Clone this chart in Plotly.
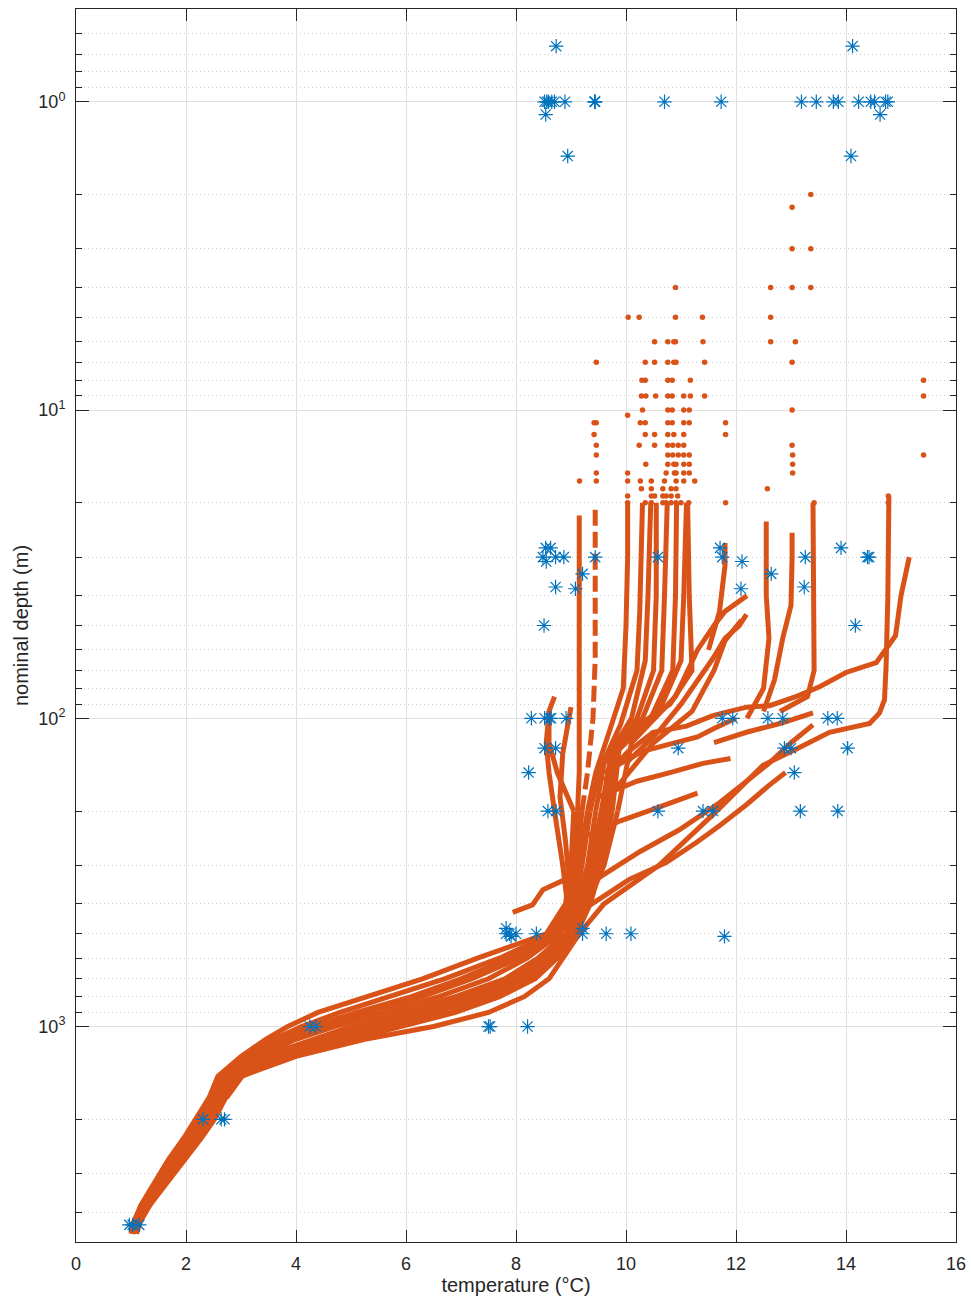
import plotly.graph_objects as go

ORANGE = "#D95319"
BLUE = "#0072BD"

# ---------------- deep part of the profiles (shared depth grid, m) ----------------
deep_depth = [4700, 4300, 3800, 3200, 2700, 2300, 2000, 1700, 1450, 1250, 1100,
              1000, 900, 800, 700, 600, 500, 400, 300, 200]
deep_t1 = [1.00, 1.05, 1.18, 1.42, 1.68, 1.96, 2.18, 2.42, 2.58, 3.00, 3.45,
           3.85, 4.40, 5.30, 6.30, 7.30, 8.55, 8.90, 9.00, 9.05]
deep_t2 = [1.02, 1.08, 1.25, 1.50, 1.78, 2.05, 2.28, 2.52, 2.70, 3.15, 3.75,
           4.30, 5.10, 6.10, 7.00, 7.90, 8.70, 8.95, 9.10, 9.20]
deep_t3 = [1.05, 1.10, 1.28, 1.55, 1.85, 2.12, 2.35, 2.58, 2.80, 3.30, 4.00,
           4.70, 5.60, 6.60, 7.50, 8.20, 8.80, 9.05, 9.20, 9.35]
deep_t4 = [None, 1.14, 1.33, 1.62, 1.94, 2.20, 2.42, 2.64, 2.87, 3.40, 4.30,
           5.00, 5.90, 6.90, 7.80, 8.40, 8.90, 9.10, 9.30, 9.45]
deep_t5 = [None, None, None, None, None, 2.22, 2.44, 2.68, 2.92, 3.55, 4.55,
           5.30, 6.20, 7.20, 8.00, 8.55, 9.00, 9.20, 9.35, 9.55]
deep_t6 = [None, None, None, None, None, None, 2.47, 2.72, 2.97, 3.70, 4.80,
           5.60, 6.50, 7.45, 8.20, 8.65, 9.05, 9.25, 9.45, 9.65]
deep_t7 = [None, None, None, None, None, None, None, 2.74, 3.02, 3.85, 5.00,
           5.90, 6.90, 7.70, 8.35, 8.75, 9.10, 9.35, 9.55, 9.75]
deep_t8 = [1.10, 1.17, 1.34, 1.66, 2.00, 2.28, 2.52, 2.72, 3.00, 4.00, 5.25,
           6.50, 7.50, 8.15, 8.60, 8.85, 9.15, 9.60, 10.60, 11.65]
deep_t9 = [None, None, 1.20, 1.46, 1.73, 2.00, 2.23, 2.48, 2.63, 3.10, 3.60,
           4.10, 4.80, 5.70, 6.70, 7.70, 8.65, 8.92, 9.05, 9.12]
deep_t10 = [None, None, None, None, None, None, None, None, 2.75, 3.25, 3.90,
            4.50, 5.30, 6.30, 7.20, 8.05, 8.75, 9.00, 9.15, 9.30]
deep_t11 = [None, None, None, None, None, None, None, None, None, 3.50, 4.40,
            5.15, 6.00, 7.00, 7.90, 8.45, 8.95, 9.15, 9.40, 9.60]
deep_t12 = [None, None, None, None, None, None, None, None, None, 3.70, 4.65,
            5.45, 6.35, 7.35, 8.10, 8.60, 9.05, 9.30, 9.50, 9.70]
deep_t13 = [None, None, None, None, None, None, None, None, None, None, 4.90,
            5.80, 6.80, 7.60, 8.30, 8.70, 9.00, 9.30, 9.60, 9.85]

# ---------------- upper part of the same profiles (above 200 m) ----------------
up1_t = [8.75, 8.60, 8.60, 8.70]
up1_d = [150, 120, 95, 85]
up2_t = [9.30, 9.40, 9.44, 9.44, 9.44]
up2_d = [150, 100, 64, 40, 21]
up3_t = [9.50, 9.90, 10.20, 10.25, 10.28, 10.30]
up3_d = [150, 105, 70, 45, 30, 20]
up4_t = [9.60, 10.10, 10.35, 10.40, 10.45]
up4_d = [140, 100, 65, 40, 20]
up5_t = [9.70, 10.20, 10.50, 10.55, 10.55]
up5_d = [140, 100, 70, 40, 20]
up6_t = [9.80, 10.45, 10.85, 10.90, 10.92]
up6_d = [130, 100, 70, 40, 20]
up7_t = [9.90, 10.80, 11.20, 11.15, 11.12]
up7_d = [115, 90, 70, 40, 20]
up8_t = [12.35, 12.49, 13.09, 13.70, 14.43, 14.61, 14.70, 14.73, 14.76, 14.78]
up8_d = [150, 142, 126, 111, 104, 96, 87, 67, 41, 19]
up9_t = [9.15, 9.15, 9.15, 9.15]
up9_d = [150, 80, 40, 22]
up10_t = [9.45, 9.70, 9.95, 10.00, 10.03, 10.03]
up10_d = [150, 110, 80, 50, 30, 20]
up11_t = [9.75, 10.30, 10.65, 10.70, 10.75]
up11_d = [130, 100, 70, 40, 20]
up12_t = [9.85, 10.60, 11.00, 11.05, 11.10]
up12_d = [120, 95, 65, 40, 20]
up13_t = [10.10, 10.90, 11.30, 11.60, 11.80, 12.20]
up13_d = [120, 85, 60, 50, 45, 40]

# ---------------- other shallow branches (temperature, depth) ----------------
w2_t = [9.10, 9.46, 10.25, 10.97, 11.70, 12.20, 12.60, 13.00, 13.40]
w2_d = [450, 333, 271, 230, 188, 160, 140, 120, 105]
w3_t = [9.20, 10.06, 10.73, 11.28, 11.70, 12.20, 12.60, 12.90]
w3_d = [420, 333, 294, 253, 223, 190, 165, 150]
c2_t = [9.60, 10.00, 10.49, 11.10, 11.58, 12.19, 12.61, 13.09, 13.52, 14.00, 14.55, 14.90, 15.00, 15.15]
c2_d = [160, 130, 111, 106, 98, 92, 91, 85, 79, 71, 66, 54, 40, 30]
k1_t = [12.80, 13.30, 13.42, 13.42, 13.40, 13.40]
k1_d = [95, 85, 70, 45, 30, 20]
k2_t = [12.50, 12.70, 12.85, 13.00, 13.02, 13.02]
k2_d = [95, 75, 55, 43, 30, 25]
k3_t = [12.20, 12.50, 12.60, 12.55, 12.55]
k3_d = [100, 80, 55, 40, 23]
k4_t = [11.50, 11.70, 11.80, 11.80]
k4_d = [60, 45, 32, 27]
s12_t = [9.80, 10.50, 11.20, 11.60, 11.80, 12.10]
s12_d = [170, 120, 95, 70, 56, 48]
s13_t = [8.95, 8.85, 8.70, 8.60, 8.55, 8.60]
s13_d = [420, 300, 200, 150, 120, 95]
s14_t = [9.00, 8.90, 8.80, 8.85, 9.00]
s14_d = [400, 250, 180, 130, 92]
s15_t = [7.94, 8.06, 8.30, 8.49, 8.73, 8.95]
s15_d = [426, 417, 403, 360, 345, 330]
b1_t = [9.50, 10.20, 10.80, 11.40, 11.90]
b1_d = [180, 160, 150, 140, 135]
b2_t = [9.60, 10.30, 10.90, 11.30, 11.60, 12.00]
b2_d = [150, 128, 120, 115, 108, 100]
b3_t = [10.00, 10.60, 11.00, 11.58, 11.80, 12.06, 12.19]
b3_d = [140, 110, 90, 64, 55, 50, 46]
b4_t = [11.60, 12.19, 12.80, 13.40]
b4_d = [120, 111, 104, 96]
b5_t = [9.30, 9.90, 10.40, 10.90, 11.30]
b5_d = [240, 215, 200, 185, 175]

# ---------------- sparse shallow samples ----------------
dot_t = [13.36, 13.02, 13.02, 13.36, 10.90, 12.63, 13.02, 13.36,
         10.04, 10.24, 10.90, 11.39, 12.63,
         10.52, 10.76, 10.87, 10.90, 11.40, 12.63, 13.08,
         9.46, 10.35, 10.52, 10.76, 10.87, 10.91, 11.43, 13.02,
         10.29, 10.35, 10.76, 10.84, 11.17, 15.41,
         10.28, 10.36, 10.54, 10.76, 10.84, 11.05, 11.17, 11.43, 15.41,
         10.30, 10.76, 10.84, 11.05, 11.15, 13.02,
         10.03,
         9.42, 9.46, 10.26, 10.35, 10.76, 10.84, 11.05, 11.15, 11.81,
         9.42, 10.35, 10.52, 10.76, 10.87, 11.05, 11.81,
         9.46, 10.24, 10.52, 10.76, 10.85, 10.95, 11.05, 13.02,
         9.46, 10.76, 10.85, 10.95, 11.05, 11.15, 13.03, 15.41,
         10.36, 10.76, 10.87, 10.91, 11.05, 11.15, 13.03,
         9.46, 10.03, 10.73, 10.88, 10.91, 11.05, 11.15, 13.03,
         9.155, 9.46, 10.03, 10.26, 10.46, 10.70, 10.91, 11.05, 11.25,
         10.28, 10.46, 10.67, 10.82, 10.91, 12.57,
         10.03, 10.46, 10.52, 10.67, 10.73, 10.82, 10.94, 14.77,
         10.03, 10.35, 10.46, 10.67, 10.73, 10.82, 10.91, 11.00, 11.14, 11.81, 13.42, 14.77]
dot_d = [2, 2.2, 3, 3, 4, 4, 4, 4,
         5, 5, 5, 5, 5,
         6, 6, 6, 6, 6, 6, 6,
         7, 7, 7, 7, 7, 7, 7, 7,
         8, 8, 8, 8, 8, 8,
         9, 9, 9, 9, 9, 9, 9, 9, 9,
         10, 10, 10, 10, 10, 10,
         10.4,
         11, 11, 11, 11, 11, 11, 11, 11, 11,
         12, 12, 12, 12, 12, 12, 12,
         13, 13, 13, 13, 13, 13, 13, 13,
         14, 14, 14, 14, 14, 14, 14, 14,
         15, 15, 15, 15, 15, 15, 15,
         16, 16, 16, 16, 16, 16, 16, 16,
         17, 17, 17, 17, 17, 17, 17, 17, 17,
         18, 18, 18, 18, 18, 18,
         19, 19, 19, 19, 19, 19, 19, 19,
         20, 20, 20, 20, 20, 20, 20, 20, 20, 20, 20, 20]

# ---------------- nominal-depth point measurements (blue stars) ----------------
star_t = [8.73, 14.12,
          8.52, 8.59, 8.70, 8.89, 9.43, 9.43, 9.44, 10.70, 11.73, 13.19, 13.46,
          13.77, 13.86, 14.23, 14.45, 14.52, 14.72, 14.76, 8.56, 8.65,
          8.54, 14.62, 8.94, 14.09,
          8.54, 8.63, 11.71, 13.91,
          8.49, 8.72, 8.87, 9.44, 10.58, 11.75, 13.26, 14.39, 14.42, 8.55, 12.11,
          9.21, 12.64, 8.72, 13.24, 9.08, 12.09, 8.51, 14.17,
          8.28, 8.52, 8.61, 8.64, 8.91, 11.75, 11.94, 12.58, 12.85, 13.67, 13.84,
          8.52, 8.72, 10.95, 12.88, 13.00, 14.03, 8.23, 13.06,
          8.58, 8.73, 10.58, 11.40, 11.58, 13.17, 13.85,
          7.82, 7.88, 8.00, 8.37, 9.21, 9.64, 10.09, 11.79, 7.82, 9.21, 7.91,
          4.25, 4.36, 7.53, 8.21, 7.50,
          2.31, 2.70, 2.64,
          0.97, 1.15, 1.03]
star_d = [0.66, 0.66,
          1, 1, 1, 1, 1, 1, 1, 1, 1, 1, 1,
          1, 1, 1, 1, 1, 1, 1, 1, 1,
          1.1, 1.1, 1.5, 1.5,
          28, 28, 28, 28,
          30, 30, 30, 30, 30, 30, 30, 30, 30, 31, 31,
          34, 34, 37.5, 37.5, 38, 38, 50, 50,
          100, 100, 100, 100, 100, 100, 100, 100, 100, 100, 100,
          125, 125, 125, 125, 125, 125, 150, 150,
          200, 200, 200, 200, 200, 200, 200,
          500, 500, 500, 500, 500, 500, 500, 510, 480, 480, 510,
          1000, 1000, 1000, 1000, 1000,
          2000, 2000, 2000,
          4400, 4400, 4400]

# ---------------- axis ticks ----------------
x_ticks = [0, 2, 4, 6, 8, 10, 12, 14, 16]
y_ticks = [1, 10, 100, 1000]
y_ticktext = ["10<sup>0</sup>", "10<sup>1</sup>", "10<sup>2</sup>", "10<sup>3</sup>"]
y_minor = [0.5, 0.6, 0.7, 0.8, 0.9,
           2, 3, 4, 5, 6, 7, 8, 9,
           20, 30, 40, 50, 60, 70, 80, 90,
           200, 300, 400, 500, 600, 700, 800, 900,
           2000, 3000, 4000, 5000]

fig = go.Figure()

line_style = dict(color=ORANGE, width=5)
dashed_style = dict(color=ORANGE, width=5, dash="16px,6px")

profiles = [(deep_t1, up1_t, up1_d, line_style), (deep_t2, up2_t, up2_d, dashed_style),
            (deep_t3, up3_t, up3_d, line_style), (deep_t4, up4_t, up4_d, line_style),
            (deep_t5, up5_t, up5_d, line_style), (deep_t6, up6_t, up6_d, line_style),
            (deep_t7, up7_t, up7_d, line_style), (deep_t8, up8_t, up8_d, line_style),
            (deep_t9, up9_t, up9_d, line_style), (deep_t10, up10_t, up10_d, line_style),
            (deep_t11, up11_t, up11_d, line_style), (deep_t12, up12_t, up12_d, line_style),
            (deep_t13, up13_t, up13_d, line_style)]
for dt, ut, ud, st in profiles:
    fig.add_trace(go.Scatter(x=dt, y=deep_depth, mode="lines", line=line_style,
                             connectgaps=False, showlegend=False, hoverinfo="skip"))
    fig.add_trace(go.Scatter(x=[dt[-1]] + ut, y=[deep_depth[-1]] + ud, mode="lines",
                             line=st, showlegend=False, hoverinfo="skip"))

shallow = [(w2_t, w2_d), (w3_t, w3_d), (c2_t, c2_d),
           (k1_t, k1_d), (k2_t, k2_d), (k3_t, k3_d), (k4_t, k4_d),
           (s12_t, s12_d), (s13_t, s13_d), (s14_t, s14_d), (s15_t, s15_d),
           (b1_t, b1_d), (b2_t, b2_d), (b3_t, b3_d), (b4_t, b4_d), (b5_t, b5_d)]
for t, d in shallow:
    fig.add_trace(go.Scatter(x=t, y=d, mode="lines", line=line_style,
                             showlegend=False, hoverinfo="skip"))

fig.add_trace(go.Scatter(x=dot_t, y=dot_d, mode="markers",
                         marker=dict(color=ORANGE, size=5.5, line=dict(width=0)),
                         showlegend=False, hoverinfo="skip"))

fig.add_trace(go.Scatter(x=star_t, y=star_d, mode="markers",
                         marker=dict(symbol="asterisk-open", color=BLUE, size=12,
                                     line=dict(color=BLUE, width=1.2)),
                         showlegend=False, hoverinfo="skip"))

font_family = "Liberation Sans, Arial, Helvetica, sans-serif"
axis_color = "#262626"

fig.update_layout(
    width=971, height=1305,
    margin=dict(l=76, r=15, t=9, b=63, autoexpand=False),
    paper_bgcolor="white", plot_bgcolor="white",
    font=dict(family=font_family, size=18, color=axis_color),
    showlegend=False,
    xaxis=dict(
        range=[0, 16], tickvals=x_ticks, ticks="inside", ticklen=12,
        tickcolor=axis_color, showline=True, linecolor=axis_color, linewidth=1,
        mirror="ticks", showgrid=True, gridcolor="#e0e0e0", gridwidth=1,
        zeroline=False, tickfont=dict(size=18), automargin=False,
        ticklabelstandoff=5,
        title=dict(text="temperature (°C)", font=dict(size=20), standoff=4),
    ),
    yaxis=dict(
        type="log", range=[3.69897, -0.30103], tickvals=y_ticks, ticktext=y_ticktext,
        ticks="inside", ticklen=13, tickcolor=axis_color, showline=True,
        linecolor=axis_color, linewidth=1, mirror="ticks", showgrid=True,
        gridcolor="#e0e0e0", gridwidth=1, zeroline=False, tickfont=dict(size=18),
        automargin=False, ticklabelstandoff=6,
        minor=dict(tickvals=y_minor, ticks="inside", ticklen=6, tickcolor=axis_color,
                   showgrid=True, griddash="1px,3px", gridcolor="#cfcfcf", gridwidth=1),
        title=dict(text="nominal depth (m)", font=dict(size=20), standoff=4),
    ),
)

# remove the default page margin so the figure sits at the window origin
fig.write_html("out.html",
               config={"displayModeBar": False},
               post_script="document.body.style.margin='0';document.body.style.overflow='hidden';")
